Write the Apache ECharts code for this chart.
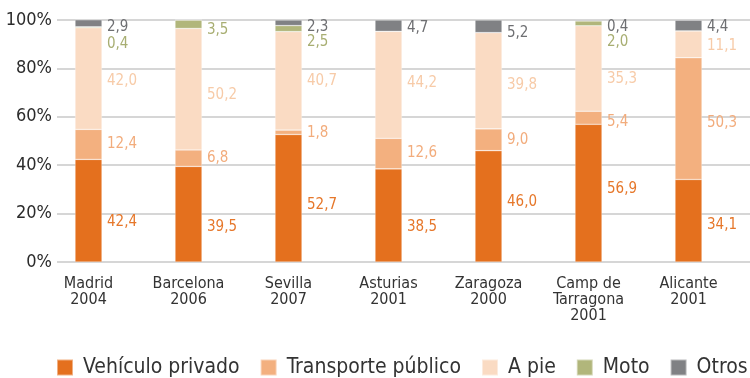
<!DOCTYPE html>
<html>
<head>
<meta charset="utf-8">
<script src="https://cdn.jsdelivr.net/npm/echarts@6/dist/echarts.min.js"></script>
<style>
  html, body { margin: 0; padding: 0; background: #fff; }
  #chart { width: 750px; height: 378px; }
</style>
</head>
<body>
<div id="chart"></div>
<script>
// Modal split of trips by city (percent of trips)
const cities = ['Madrid\n2004', 'Barcelona\n2006', 'Sevilla\n2007', 'Asturias\n2001',
                'Zaragoza\n2000', 'Camp de\nTarragona\n2001', 'Alicante\n2001'];
const vehiculoPrivado    = [42.4, 39.5, 52.7, 38.5, 46.0, 56.9, 34.1];
const transportePublico  = [12.4, 6.8, 1.8, 12.6, 9.0, 5.4, 50.3];
const aPie               = [42.0, 50.2, 40.7, 44.2, 39.8, 35.3, 11.1];
const moto               = [0.4, 3.5, 2.5, 0, 0, 2.0, 0];
const otros              = [2.9, 0, 2.3, 4.7, 5.2, 0.4, 4.4];
const yTicks = [0, 20, 40, 60, 80, 100];

// Vertical nudges (px) so the value labels beside each column don't collide
const labelNudge = {
  vp:    [11, 13, 7, 12, -4, -4, 4],
  tp:    [0, 0, 1, 0, 0, 4, 4],
  pie:   [3, 6, 0, -2, 4, 11, 2],
  moto:  [17, 6, 14, 0, 0, 19, 0],
  otros: [4, 0, 4, 2, 7, 7, 2]
};

const FONT = '"DejaVu Sans Condensed", "DejaVu Sans", sans-serif';

function fmt(v) { return v.toFixed(1).replace('.', ','); }

function makeSeries(name, values, fill, textColor, nudgeKey) {
  return {
    name: name,
    type: 'bar',
    stack: 'total',
    xAxisIndex: 1,
    yAxisIndex: 1,
    barWidth: 27,
    itemStyle: { color: fill, borderColor: 'rgba(255,255,255,0.45)', borderWidth: 0.6 },
    data: values.map((v, i) => ({
      value: v,
      label: {
        show: v > 0,
        position: 'right',
        distance: 5,
        offset: [0, labelNudge[nudgeKey][i]],
        formatter: () => fmt(v),
        color: textColor,
        fontFamily: FONT,
        fontSize: 15
      }
    }))
  };
}

const chart = echarts.init(document.getElementById('chart'), null, { renderer: 'canvas' });

chart.setOption({
  animation: false,
  backgroundColor: '#ffffff',
  grid: [
    // gridlines + percentage axis
    { left: 57, right: 0, top: 20, bottom: 116, containLabel: false },
    // columns
    { left: 38.5, width: 700, top: 20, bottom: 116, containLabel: false }
  ],
  xAxis: [
    { gridIndex: 0, type: 'value', min: 0, max: 1, show: false },
    {
      gridIndex: 1,
      type: 'category',
      data: cities,
      axisLine: { show: false },
      axisTick: { show: false },
      axisLabel: {
        interval: 0,
        margin: 14,
        color: '#333333',
        fontFamily: FONT,
        fontSize: 16,
        lineHeight: 16
      }
    }
  ],
  yAxis: [
    {
      gridIndex: 0,
      type: 'value',
      min: yTicks[0],
      max: yTicks[yTicks.length - 1],
      interval: 20,
      axisLine: { show: false },
      axisTick: { show: false },
      axisLabel: {
        margin: 5,
        color: '#2b2b2b',
        fontFamily: FONT,
        fontSize: 18,
        formatter: v => v + '%'
      },
      splitLine: { lineStyle: { color: '#d6d6d6', width: 2 } }
    },
    { gridIndex: 1, type: 'value', min: 0, max: 100, show: false }
  ],
  legend: {
    left: 56,
    top: 357,
    width: 740,
    padding: 0,
    itemWidth: 16,
    itemHeight: 16,
    itemGap: 20,
    icon: 'rect',
    textStyle: {
      color: '#333333',
      fontFamily: FONT,
      fontSize: 21,
      padding: [0, 0, 0, 5]
    },
    data: ['Vehículo privado', 'Transporte público', 'A pie', 'Moto', 'Otros']
  },
  series: [
    makeSeries('Vehículo privado', vehiculoPrivado, '#E4701E', '#E6772A', 'vp'),
    makeSeries('Transporte público', transportePublico, '#F3B07F', '#F2AC7C', 'tp'),
    makeSeries('A pie', aPie, '#FADBC3', '#F7CBA8', 'pie'),
    makeSeries('Moto', moto, '#B1B67B', '#A8AE72', 'moto'),
    makeSeries('Otros', otros, '#808184', '#6E6F72', 'otros')
  ]
});
</script>
</body>
</html>
